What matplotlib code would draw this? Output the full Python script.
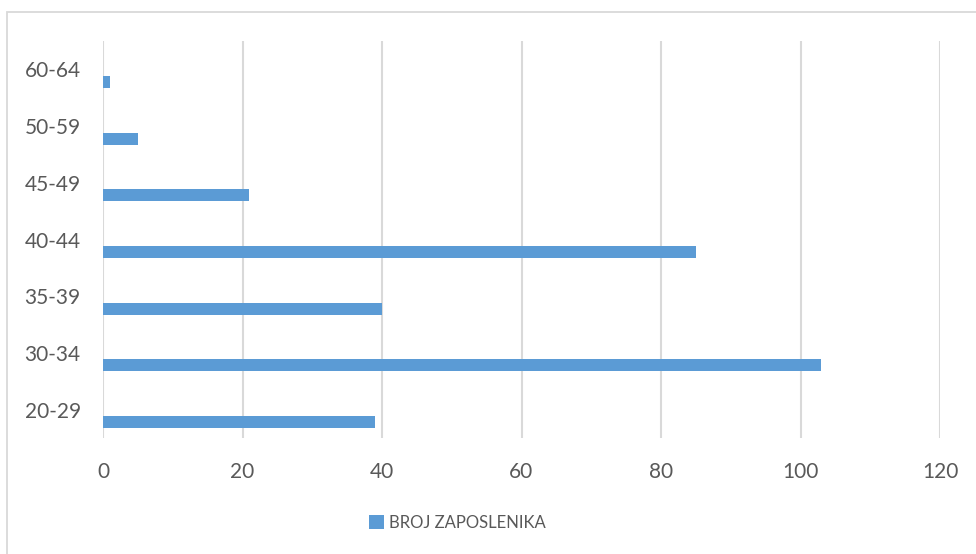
import matplotlib.pyplot as plt
from matplotlib.patches import Rectangle
import numpy as np

age_groups = ["20-29", "30-34", "35-39", "40-44", "45-49", "50-59", "60-64"]
employees = [39, 103, 40, 85, 21, 5, 1]
x_ticks = [0, 20, 40, 60, 80, 100, 120]
series_name = "BROJ ZAPOSLENIKA"

plt.rcParams['font.family'] = ['Lato', 'DejaVu Sans']
text_col = '#595959'
grid_col = '#d9d9d9'
bar_col = '#5b9bd5'

fig = plt.figure(figsize=(9.76, 5.54), dpi=100)
ax = fig.add_axes([103 / 976, 1 - 438 / 554, 837 / 976, 397 / 554])

# chart frame
fig.patches.append(Rectangle((7 / 976, -0.05), 1.1, 1 - 12 / 554 + 0.05,
                             transform=fig.transFigure, fill=False,
                             edgecolor=grid_col, linewidth=1.3))

pos = np.arange(len(age_groups))
ax.barh(pos - 0.22, employees, height=0.21, color=bar_col, label=series_name, zorder=3)

ax.set_xlim(0, 120)
ax.set_ylim(-0.5, len(age_groups) - 0.5)
ax.set_xticks(x_ticks)
ax.set_yticks(pos)
ax.set_yticklabels(age_groups)
ax.grid(axis='x', color=grid_col, linewidth=1.5, zorder=0)
for s in ax.spines.values():
    s.set_visible(False)
ax.tick_params(axis='both', length=0, labelsize=15, labelcolor=text_col)
ax.tick_params(axis='x', pad=17)
ax.tick_params(axis='y', pad=16)

fig.legend(loc='center', bbox_to_anchor=(457 / 976, 1 - 523 / 554), frameon=False,
           fontsize=12, labelcolor=text_col, handlelength=0.9, handleheight=0.9,
           handletextpad=0.3)

plt.savefig('out.png', dpi=100)
